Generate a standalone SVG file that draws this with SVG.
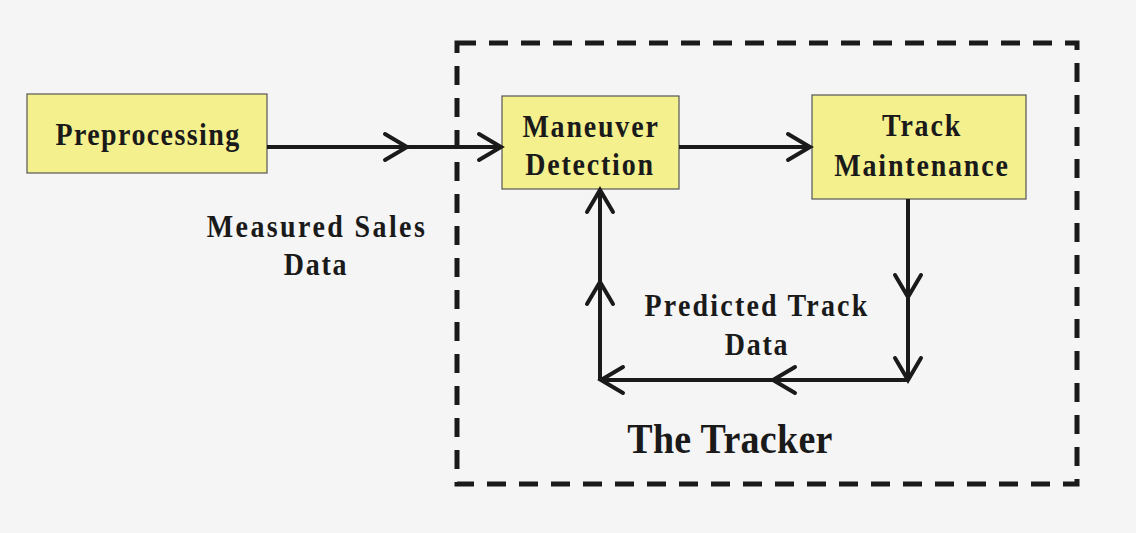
<svg xmlns="http://www.w3.org/2000/svg" width="1136" height="533" viewBox="0 0 1136 533">
<style>
.box{fill:#f4f08e;stroke:#555;stroke-width:1.2}
.t{font-family:"Liberation Serif","Times New Roman",serif;font-weight:bold;font-size:28px;fill:#1a1a1a;text-anchor:middle;letter-spacing:1.8px}
.c{fill:none;stroke:#1a1a1a;stroke-width:4}
</style>
<defs>
<marker id="chev" markerUnits="userSpaceOnUse" markerWidth="40" markerHeight="40" viewBox="-30 -20 40 40" refX="0" refY="0" orient="auto" overflow="visible">
<path d="M-22,-13 L0,0 L-22,13" fill="none" stroke="#1a1a1a" stroke-width="4" stroke-linecap="round" stroke-linejoin="miter"/>
</marker>
</defs>
<rect width="1136" height="533" fill="#f5f5f5"/>
<g id="tracker">
<rect x="457" y="43" width="620" height="441" fill="none" stroke="#1a1a1a" stroke-width="5" stroke-dasharray="19 13"/>
<text class="t" transform="translate(730,453) scale(1,1.12)" style="font-size:38px;letter-spacing:0.3px">The Tracker</text>
</g>
<g id="preprocessing">
<rect class="box" x="27" y="94" width="240" height="79"/>
<text class="t" transform="translate(148,145) scale(1,1.1)" style="letter-spacing:1.4px">Preprocessing</text>
</g>
<g id="maneuver">
<rect class="box" x="502" y="96" width="177" height="93"/>
<text class="t" transform="translate(591,137) scale(1,1.1)">Maneuver</text>
<text class="t" transform="translate(590,175) scale(1,1.1)">Detection</text>
</g>
<g id="track">
<rect class="box" x="812" y="95" width="214" height="104"/>
<text class="t" transform="translate(922,136) scale(1,1.1)">Track</text>
<text class="t" transform="translate(922,176) scale(1,1.1)">Maintenance</text>
</g>
<g id="connectors">
<polyline class="c" points="267,147 407,147 501,147" marker-mid="url(#chev)" marker-end="url(#chev)"/>
<polyline class="c" points="679,147 810,147" marker-end="url(#chev)"/>
<polyline class="c" points="908,199 908,297 908,380" marker-mid="url(#chev)" marker-end="url(#chev)"/>
<polyline class="c" points="908,380 773,380 601,380" marker-mid="url(#chev)" marker-end="url(#chev)"/>
<polyline class="c" points="600,380 600,282 600,190" marker-mid="url(#chev)" marker-end="url(#chev)"/>
</g>
<g id="labels">
<text class="t" transform="translate(317,237) scale(1,1.1)" style="letter-spacing:2.4px">Measured Sales</text>
<text class="t" transform="translate(316,275) scale(1,1.1)">Data</text>
<text class="t" transform="translate(757,316) scale(1,1.1)" style="letter-spacing:2.2px">Predicted Track</text>
<text class="t" transform="translate(757,355) scale(1,1.1)">Data</text>
</g>
</svg>
